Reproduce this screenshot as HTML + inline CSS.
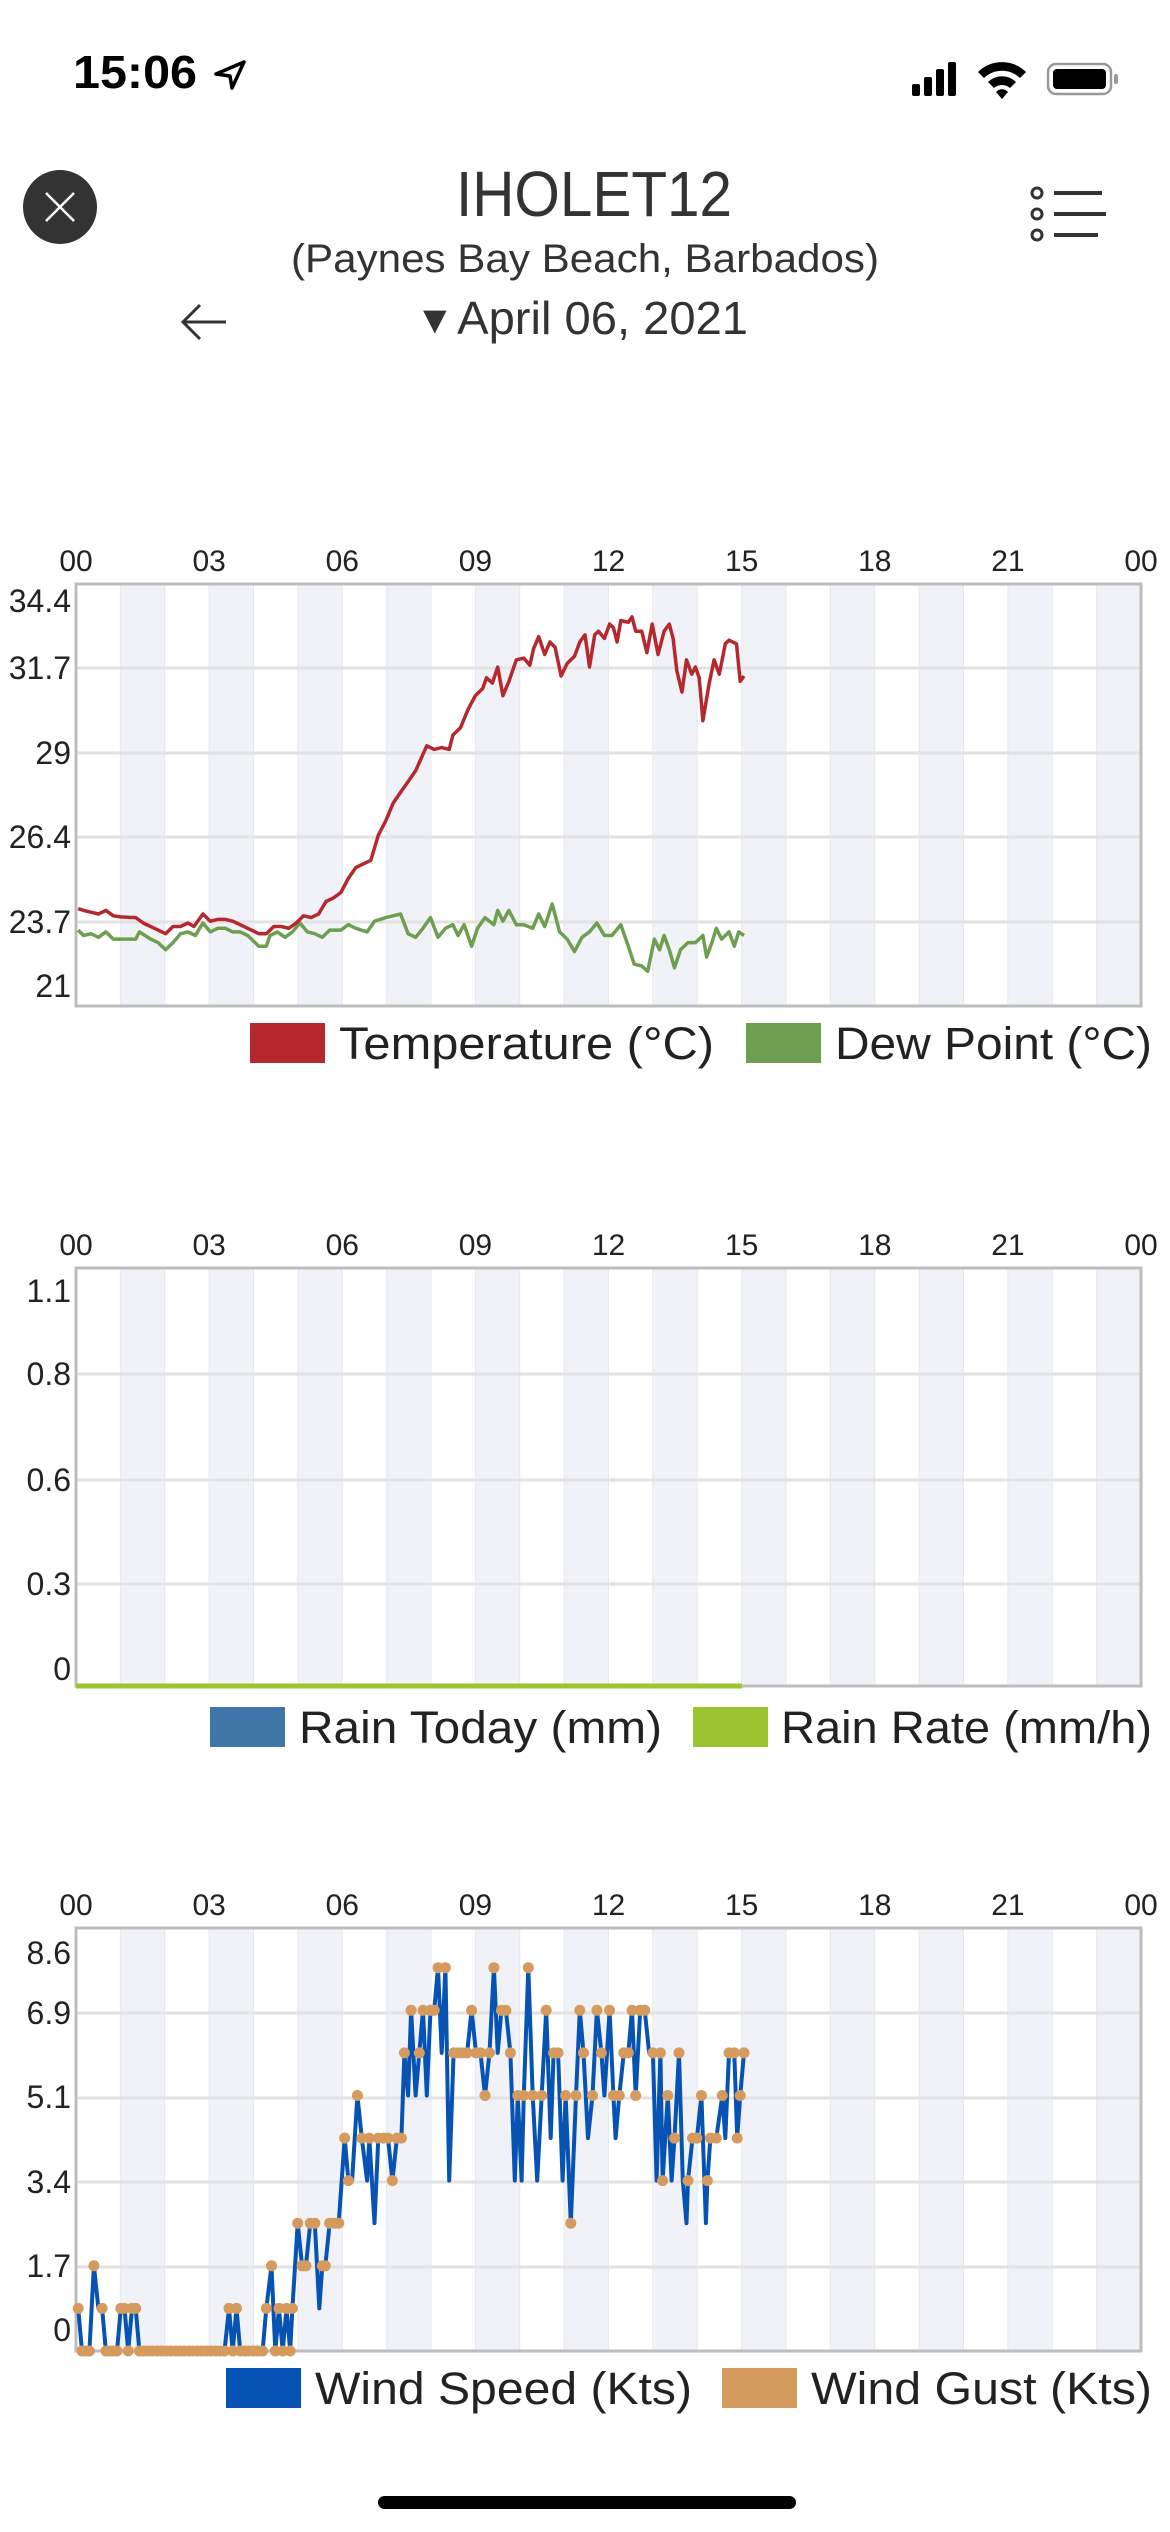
<!DOCTYPE html>
<html><head><meta charset="utf-8"><style>
html,body{margin:0;padding:0;background:#fff;width:1170px;height:2532px;overflow:hidden}
svg{display:block}
text{font-family:"Liberation Sans",sans-serif}
</style></head><body>
<svg id="s" width="1170" height="2532" viewBox="0 0 1170 2532" xmlns="http://www.w3.org/2000/svg">
<text x="73" y="88" font-size="46" fill="#000" textLength="124" lengthAdjust="spacingAndGlyphs" font-weight="bold">15:06</text>
<path d="M232 88 L244 62 L216 74 L230 76 Z" fill="none" stroke="#000" stroke-width="3.5" stroke-linejoin="round"/>
<rect x="912" y="84" width="8" height="12" rx="2"/><rect x="924" y="77" width="8" height="19" rx="2"/><rect x="936" y="69" width="8" height="27" rx="2"/><rect x="948" y="62" width="8" height="34" rx="2"/>
<path d="M978 72 A34 34 0 0 1 1026 72 L1020 78 A26 26 0 0 0 984 78Z M988 82 A20 20 0 0 1 1016 82 L1010 88 A12 12 0 0 0 994 88Z M996 92 L1002 99 L1008 92 A8 8 0 0 0 996 92Z" fill="#000"/>
<rect x="1048" y="64" width="63" height="30" rx="8" fill="none" stroke="#999" stroke-width="2.5"/>
<rect x="1053" y="69" width="53" height="20" rx="4" fill="#000"/>
<rect x="1114" y="74" width="4" height="10" rx="2" fill="#999"/>
<circle cx="60" cy="207" r="37" fill="#333"/>
<path d="M46 193 L74 221 M74 193 L46 221" stroke="#fff" stroke-width="2.5"/>
<text x="456" y="216" font-size="64" fill="#333" textLength="276" lengthAdjust="spacingAndGlyphs">IHOLET12</text>
<text x="291" y="272" font-size="40" fill="#333" textLength="588" lengthAdjust="spacingAndGlyphs">(Paynes Bay Beach, Barbados)</text>
<text x="423" y="334" font-size="46" fill="#333" textLength="325" lengthAdjust="spacingAndGlyphs">▾ April 06, 2021</text>
<path d="M226 322 L184 322 M200 305 L183 322 L200 339" stroke="#333" stroke-width="3" fill="none"/>
<g fill="none" stroke="#333" stroke-width="3"><circle cx="1037" cy="193" r="5"/><circle cx="1037" cy="214" r="5"/><circle cx="1037" cy="235" r="5"/></g>
<g stroke="#333" stroke-width="4"><line x1="1054" y1="193" x2="1102" y2="193"/><line x1="1054" y1="214" x2="1106" y2="214"/><line x1="1054" y1="235" x2="1098" y2="235"/></g>
<g id="charts"></g>
<rect x="378" y="2496" width="418" height="13" rx="6.5" fill="#000"/>
</svg>
<script>
var NS="http://www.w3.org/2000/svg",G=document.getElementById('charts');
function el(t,a,p){var e=document.createElementNS(NS,t);for(var k in a)e.setAttribute(k,a[k]);(p||G).appendChild(e);return e;}
function txt(x,y,s,sz,anchor,len){var a={x:x,y:y,'font-size':sz,'text-anchor':anchor||'start',fill:'#222'};if(len){a.textLength=len;a.lengthAdjust='spacingAndGlyphs';}var e=el('text',a);e.textContent=s;return e;}
var L=76,R=1141,H=(R-L)/24;
function frame(top,bot,grid,labels){
  for(var h=1;h<24;h+=2) el('rect',{x:L+h*H,y:top,width:H,height:bot-top,fill:'#f0f2f8'});
  for(var h=1;h<24;h++) el('line',{x1:L+h*H,y1:top,x2:L+h*H,y2:bot,stroke:'#e6e8ee','stroke-width':1});
  grid.forEach(function(y){el('line',{x1:L,y1:y,x2:R,y2:y,stroke:'#e2e2e2','stroke-width':3});});
  el('rect',{x:L,y:top,width:R-L,height:bot-top,fill:'none',stroke:'#bdbdbd','stroke-width':3});
  var hl=['00','03','06','09','12','15','18','21','00'];
  hl.forEach(function(s,i){txt(L+i*3*H,top-13,s,30,'middle');});
  labels.forEach(function(l){txt(71,l[1]+11,l[0],32,'end');});
}
function legend(y,items){
  items.forEach(function(it){el('rect',{x:it[0],y:y-20,width:75,height:40,fill:it[1]});
    txt(it[2],y+16,it[3],45,'start',it[4]);});
}
frame(584,1006,[668,753,837,922],[['34.4',601],['31.7',668],['29',753],['26.4',837],['23.7',922],['21',986]]);
function m1(a){return a.map(function(p){return (76+(p[0]-100)*1065/1427).toFixed(1)+','+(584+(p[1]-178)*422/1179).toFixed(1);}).join(' ');}
var T=[[103,1085],[110,1090],[120,1095],[130,1100],[140,1090],[150,1105],[160,1108],[180,1110],[190,1125],[205,1140],[220,1155],[230,1135],[240,1135],[250,1125],[258,1135],[270,1100],[280,1120],[290,1115],[300,1115],[310,1120],[320,1130],[330,1140],[345,1155],[355,1155],[365,1135],[375,1135],[385,1140],[395,1125],[405,1105],[415,1110],[425,1100],[435,1065],[445,1055],[455,1040],[465,1000],[475,970],[485,960],[495,950],[505,880],[515,840],[525,790],[535,760],[545,730],[555,700],[570,630],[580,640],[590,635],[600,640],[605,600],[615,580],[625,530],[635,490],[645,470],[650,440],[658,455],[665,410],[672,490],[680,450],[690,390],[700,385],[708,405],[713,360],[720,325],[728,375],[735,340],[742,355],[750,435],[758,400],[768,380],[775,340],[782,320],[788,410],[795,320],[800,310],[808,330],[815,290],[820,300],[825,340],[830,280],[840,285],[845,270],[850,310],[858,310],[865,370],[872,290],[880,375],[888,310],[895,290],[900,330],[905,420],[912,480],[918,390],[925,430],[930,410],[935,440],[940,560],[948,460],[955,390],[962,430],[970,345],[975,335],[985,345],[990,450],[995,435]];
var D=[[103,1145],[110,1160],[120,1155],[130,1165],[140,1150],[150,1170],[165,1170],[180,1170],[185,1150],[200,1170],[210,1180],[220,1200],[230,1180],[240,1155],[250,1150],[260,1160],[270,1125],[280,1150],[290,1140],[300,1140],[310,1150],[320,1150],[330,1160],[345,1190],[355,1190],[360,1160],[370,1150],[380,1165],[390,1150],[400,1125],[410,1150],[420,1155],[430,1165],[440,1145],[455,1145],[465,1130],[475,1140],[490,1150],[500,1120],[515,1110],[525,1105],[535,1100],[545,1155],[555,1165],[565,1140],[575,1110],[585,1165],[595,1140],[605,1130],[612,1160],[620,1130],[630,1190],[638,1140],[648,1110],[660,1130],[665,1090],[672,1120],[680,1090],[690,1130],[700,1130],[712,1140],[720,1100],[728,1135],[738,1072],[748,1150],[758,1170],[768,1205],[778,1165],[788,1150],[798,1125],[808,1160],[818,1160],[830,1130],[840,1190],[848,1240],[858,1245],[866,1260],[875,1170],[882,1200],[888,1160],[895,1200],[902,1250],[910,1200],[920,1180],[930,1180],[940,1160],[945,1220],[952,1180],[958,1140],[965,1170],[975,1150],[982,1190],[988,1150],[995,1160]];
el('polyline',{points:m1(D),fill:'none',stroke:'#6e9e4f','stroke-width':3.5,'stroke-linejoin':'round'});
el('polyline',{points:m1(T),fill:'none',stroke:'#b5282e','stroke-width':3.5,'stroke-linejoin':'round'});
legend(1043,[[250,'#b5282e',339,'Temperature (°C)',375],[746,'#6e9e4f',835,'Dew Point (°C)',317]]);
frame(1268,1686,[1374,1480,1584],[['1.1',1291],['0.8',1374],['0.6',1480],['0.3',1584],['0',1669]]);
el('line',{x1:L,y1:1686,x2:742,y2:1686,stroke:'#9cc42e','stroke-width':5});
legend(1727,[[210,'#3f76a7',299,'Rain Today (mm)',363],[693,'#9cc42e',781,'Rain Rate (mm/h)',371]]);
frame(1928,2351,[2013,2098,2182,2267],[['8.6',1953],['6.9',2013],['5.1',2097],['3.4',2182],['1.7',2266],['0',2330]]);
var W=[[103,1,1],[108,0,0],[113,0,0],[118,0,0],[124,2,2],[130,1,0],[135,1,1],[140,0,0],[145,0,0],[150,0,0],[155,0,0],[160,1,1],[165,1,1],[170,0,0],[175,1,1],[180,1,1],[185,0,0]];
for(var x=191;x<=300;x+=6)W.push([x,0,0]);
W=W.concat([[305,1,1],[310,0,0],[315,1,1],[320,0,0],[326,0,0],[332,0,0],[338,0,0],[344,0,0],[350,0,0],[355,1,1],[362,2,2],[367,0,0],[372,1,1],[377,0,0],[382,1,1],[387,0,0],[390,1,1],[397,3,3],[403,2,2],[408,2,2],[414,3,3],[420,3,3],[426,1,0],[430,2,2],[434,2,2],[440,3,3],[446,3,3],[452,3,3],[460,5,5],[465,4,4],[470,4,0],[477,6,6],[483,5,5],[490,4,0],[493,5,5],[500,3,0],[505,5,5],[512,5,5],[518,5,5],[524,4,4],[530,5,5],[536,5,5],[540,7,7],[545,6,0],[549,8,8],[555,6,0],[560,7,7],[565,8,8],[570,6,0],[575,8,8],[580,8,8],[585,9,9],[590,7,0],[595,9,9],[600,4,0],[606,7,7],[612,7,7],[618,7,7],[624,7,7],[630,8,8],[636,7,7],[642,7,7],[648,6,6],[654,7,7],[660,9,9],[665,7,0],[670,8,8],[676,8,8],[682,7,7],[688,4,0],[692,6,6],[697,4,0],[700,6,6],[706,9,9],[712,6,6],[718,4,0],[724,6,6],[730,8,8],[736,5,0],[740,7,7],[746,7,7],[752,4,0],[756,6,6],[763,3,3],[770,6,6],[775,8,8],[780,7,7],[786,5,0],[792,6,6],[798,8,8],[804,7,7],[808,6,0],[815,8,8],[820,6,6],[823,5,0],[828,6,6],[834,7,7],[840,7,7],[845,8,8],[850,6,6],[856,8,8],[862,8,8],[868,7,0],[873,7,7],[878,4,0],[883,7,7],[886,4,4],[893,6,6],[898,4,0],[902,5,5],[908,7,7],[913,4,0],[918,3,0],[920,4,4],[926,5,5],[932,5,5],[938,6,6],[944,3,0],[946,4,4],[950,5,5],[958,5,5],[966,6,6],[970,5,0],[975,7,7],[982,7,7],[986,5,5],[990,6,6],[995,7,7]]);
function mx(x){return 76+(x-100)*1065/1427;}
function my(l){return 1928+(1367-l*118.5-190)*423/1177;}
el('polyline',{points:W.map(function(p){return mx(p[0]).toFixed(1)+','+my(p[1]).toFixed(1);}).join(' '),fill:'none',stroke:'#0653b3','stroke-width':4,'stroke-linejoin':'round'});
W.forEach(function(p){if(p[2]>0||p[1]==0) el('circle',{cx:mx(p[0]).toFixed(1),cy:my(p[2]).toFixed(1),r:5.5,fill:'#d59a5e'});});
legend(2388,[[226,'#0653b3',315,'Wind Speed (Kts)',377],[722,'#d59a5e',811,'Wind Gust (Kts)',341]]);
</script>
</body></html>
